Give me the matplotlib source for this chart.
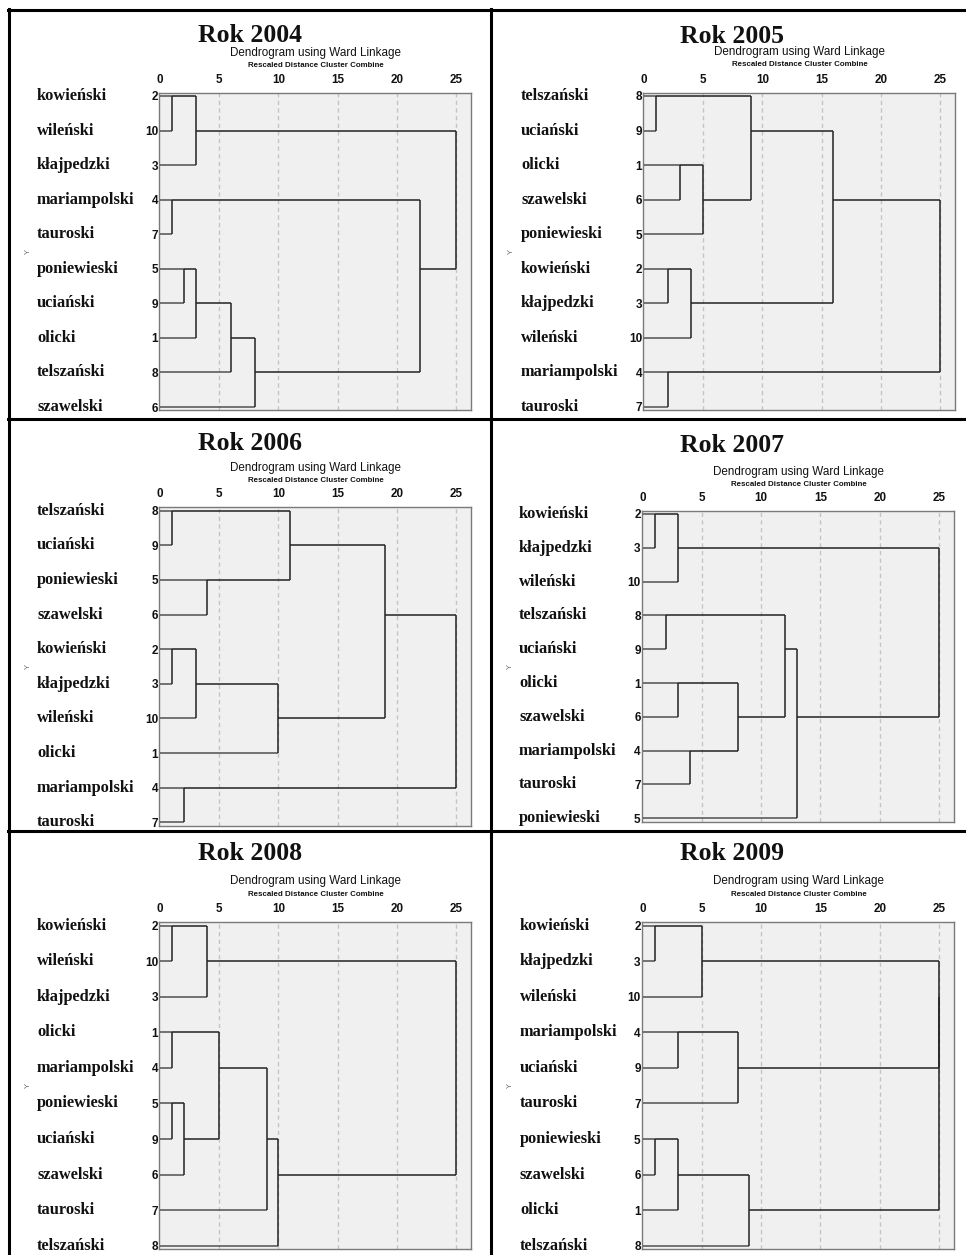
import matplotlib
matplotlib.use('Agg')
import matplotlib.pyplot as plt
from matplotlib.transforms import blended_transform_factory
from matplotlib.lines import Line2D
import numpy as np

# ---------------- data ----------------
years = ['2004', '2005', '2006', '2007', '2008', '2009']

district_names = {1: 'olicki', 2: 'kowieński', 3: 'kłajpedzki', 4: 'mariampolski',
                  5: 'poniewieski', 6: 'szawelski', 7: 'tauroski', 8: 'telszański',
                  9: 'uciański', 10: 'wileński'}

# leaf order (case numbers, top to bottom)
order_2004 = [2, 10, 3, 4, 7, 5, 9, 1, 8, 6]
order_2005 = [8, 9, 1, 6, 5, 2, 3, 10, 4, 7]
order_2006 = [8, 9, 5, 6, 2, 3, 10, 1, 4, 7]
order_2007 = [2, 3, 10, 8, 9, 1, 6, 4, 7, 5]
order_2008 = [2, 10, 3, 1, 4, 5, 9, 6, 7, 8]
order_2009 = [2, 3, 10, 4, 9, 7, 5, 6, 1, 8]

# agglomeration schedules: (cluster 1, cluster 2, rescaled distance)
sched_2004 = [(2, 10, 1), (4, 7, 1), (5, 9, 2), (2, 3, 3), (1, 5, 3),
              (1, 8, 6), (1, 6, 8), (1, 4, 22), (1, 2, 25)]
sched_2005 = [(8, 9, 1), (2, 3, 2), (4, 7, 2), (1, 6, 3), (2, 10, 4),
              (1, 5, 5), (1, 8, 9), (1, 2, 16), (1, 4, 25)]
sched_2006 = [(8, 9, 1), (2, 3, 1), (4, 7, 2), (2, 10, 3), (5, 6, 4),
              (1, 2, 10), (5, 8, 11), (1, 5, 19), (1, 4, 25)]
sched_2007 = [(2, 3, 1), (8, 9, 2), (2, 10, 3), (1, 6, 3), (4, 7, 4),
              (1, 4, 8), (1, 8, 12), (1, 5, 13), (1, 2, 25)]
sched_2008 = [(2, 10, 1), (1, 4, 1), (5, 9, 1), (5, 6, 2), (2, 3, 4),
              (1, 5, 5), (1, 7, 9), (1, 8, 10), (1, 2, 25)]
sched_2009 = [(2, 3, 1), (5, 6, 1), (4, 9, 3), (1, 5, 3), (2, 10, 5),
              (4, 7, 8), (1, 8, 9), (2, 4, 25), (1, 2, 25)]

x_ticks = [0, 5, 10, 15, 20, 25]

orders = [order_2004, order_2005, order_2006, order_2007, order_2008, order_2009]
scheds = [sched_2004, sched_2005, sched_2006, sched_2007, sched_2008, sched_2009]

# ---------------- layout (pixels) ----------------
W, H = 966, 1255
fig = plt.figure(figsize=(W / 100, H / 100), dpi=100)
fig.patch.set_facecolor('white')

panels = [
    dict(x0=160.0, x25=456.0, r0=96.0, r9=407.0, ty=35.5, dy=52.7, sy=65.5, label_x=37, ylab_x=28, tcx=250),
    dict(x0=644.0, x25=940.0, r0=96.0, r9=406.7, ty=36.5, dy=51.7, sy=64.5, label_x=521, ylab_x=511, tcx=732),
    dict(x0=160.0, x25=456.0, r0=510.7, r9=822.3, ty=443.3, dy=467.7, sy=480.7, label_x=37, ylab_x=28, tcx=250),
    dict(x0=642.7, x25=939.0, r0=514.0, r9=818.3, ty=445.0, dy=471.7, sy=484.0, label_x=519, ylab_x=510, tcx=732),
    dict(x0=160.0, x25=456.0, r0=925.7, r9=1245.7, ty=854.0, dy=881.0, sy=894.0, label_x=37, ylab_x=28, tcx=250),
    dict(x0=642.7, x25=939.0, r0=925.7, r9=1245.7, ty=854.0, dy=881.0, sy=894.0, label_x=520, ylab_x=510, tcx=732),
]

serif = ['Liberation Serif', 'DejaVu Serif']
sans = ['Liberation Sans', 'DejaVu Sans']

XMIN, XMAX = -0.05, 26.3
YPAD = 0.1


def draw_dendrogram(ax, order, schedule):
    row = {c: i for i, c in enumerate(order)}
    height = {c: 0.0 for c in order}
    for a, b, d in schedule:
        ra, rb = row[a], row[b]
        for c, r in ((a, ra), (b, rb)):
            col = '#505050' if height[c] == 0 else '#222222'
            ax.plot([height[c], d], [r, r], color=col, lw=1.1, solid_capstyle='butt', zorder=3)
        ax.plot([d, d], [ra, rb], color='#222222', lw=1.1, solid_capstyle='butt', zorder=3)
        new = min(a, b)
        row[new] = int(np.floor((ra + rb) / 2))
        height[new] = d


for year, order, sched, p in zip(years, orders, scheds, panels):
    unit = (p['x25'] - p['x0']) / 25.0
    rowsp = (p['r9'] - p['r0']) / 9.0
    left_px = p['x0'] + XMIN * unit
    right_px = p['x0'] + XMAX * unit
    top_px = p['r0'] - YPAD * rowsp
    bot_px = p['r9'] + YPAD * rowsp
    ax = fig.add_axes([left_px / W, 1 - bot_px / H, (right_px - left_px) / W, (bot_px - top_px) / H])
    ax.set_facecolor('#f0f0f0')
    ax.set_xlim(XMIN, XMAX)
    ax.set_ylim(9 + YPAD, -YPAD)
    for s in ax.spines.values():
        s.set_color('#7a7a7a')
        s.set_linewidth(1.0)
    ax.xaxis.tick_top()
    ax.set_xticks(x_ticks)
    ax.set_xticklabels([str(t) for t in x_ticks], fontfamily=sans, fontsize=8.4, fontweight='bold', color='#111111')
    ax.tick_params(axis='x', length=0, pad=5)
    ax.set_yticks(range(len(order)))
    ax.set_yticklabels([str(c) for c in order], fontfamily=sans, fontsize=8.5, fontweight='bold', color='#111111')
    ax.tick_params(axis='y', length=0, pad=1.0)
    for t in x_ticks[1:]:
        ax.axvline(t, color='#c4c4c4', lw=1.0, ls=(0, (3, 2.5)), zorder=1)
    draw_dendrogram(ax, order, sched)

    fig.text(p['tcx'] / W, 1 - p['ty'] / H, 'Rok ' + year, ha='center', va='center',
             fontfamily=serif, fontsize=18.5, fontweight='bold', color='#111111')
    cx = (p['x0'] + p['x25'] + 1.3 * unit) / 2
    fig.text(cx / W, 1 - p['dy'] / H, 'Dendrogram using Ward Linkage', ha='center', va='center',
             fontfamily=sans, fontsize=8.4, color='#111111')
    fig.text(cx / W, 1 - p['sy'] / H, 'Rescaled Distance Cluster Combine', ha='center', va='center',
             fontfamily=sans, fontsize=5.7, fontweight='bold', color='#111111')
    tr = blended_transform_factory(fig.transFigure, ax.transData)
    for i, c in enumerate(order):
        ax.text(p['label_x'] / W, i, district_names[c], transform=tr, ha='left', va='center',
                fontfamily=serif, fontsize=11.8, fontweight='bold', color='#111111', clip_on=False)
    ax.text(p['ylab_x'] / W, 4.5, 'Y', transform=tr, ha='center', va='center', rotation=90,
            fontfamily=sans, fontsize=5.5, color='#666666')


def fline(x, y):
    fig.add_artist(Line2D([xx / W for xx in x], [1 - yy / H for yy in y], color='black', lw=2.2, zorder=10))


fline([8, 966], [10, 10])
fline([9, 9], [9, 1255])
fline([491, 491], [9, 1255])
fline([8, 966], [419, 419])
fline([8, 966], [831, 831])

fig.savefig('out.png', dpi=100, facecolor='white')
